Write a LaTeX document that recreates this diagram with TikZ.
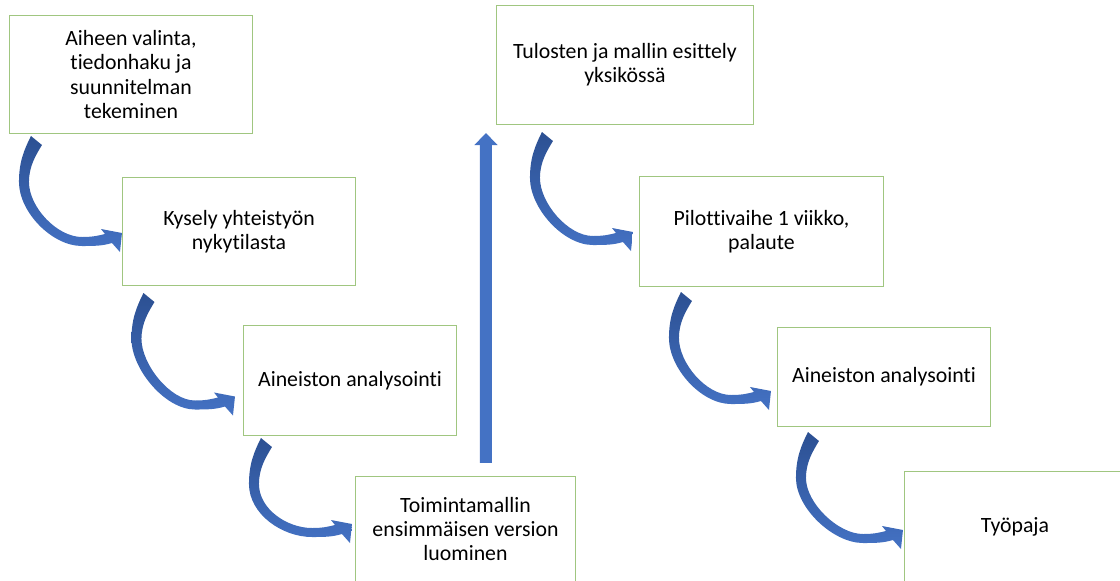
\documentclass[tikz,border=0pt]{standalone}
\usepackage{fontspec}
\setmainfont[Ligatures=NoCommon]{Carlito}
\usepackage{tikz}
\usetikzlibrary{arrows.meta,calc}
\definecolor{cbox}{RGB}{160,198,128}
\definecolor{carrow}{RGB}{68,114,196}
\definecolor{cdark}{RGB}{44,80,146}

% bent SmartArt-like arrow: #1 anchor + #2 shift = tail, #3 anchor + #4 shift = tip
\newcommand{\bendarrow}[4]{%
  \coordinate (S) at ($(#1)+(#2)$);
  \coordinate (T) at ($(#3)+(#4)$);
  \path[curvarrow] ($(S)+(-4,-5)$) .. controls +(-7,14) and +(0,-20) .. ($(S)+(-16,41)$)
    .. controls +(0,30) and +(-30,0) .. ($(T)+(-40,13)$)
    .. controls +(12,0) and +(-10,3) .. ($(T)+(-10,10)$)
    -- ($(T)+(-2,19)$) -- (T) -- ($(T)+(-21,-4)$) -- ($(T)+(-17,1)$)
    .. controls +(-8,2) and +(10,0) .. ($(T)+(-40,4)$)
    .. controls +(-25,0) and +(0,25) .. ($(S)+(-6,41)$)
    .. controls +(0,-16) and +(-6,10) .. ($(S)+(7,4)$) -- cycle;}

\begin{document}
\begin{tikzpicture}[
  x=0.025cm, y=-0.025cm,
  font=\fontsize{15.5}{17.3}\selectfont,
  box/.style={draw=cbox, line width=0.7pt, fill=white, align=center, inner sep=0pt, outer sep=0pt},
  curvarrow/.style={top color=cdark, bottom color=carrow, draw=none},
  uparr/.style={draw=carrow, line width=3mm, -{Triangle[width=5.6mm,length=3mm]}},
]
\useasboundingbox (0,0) rectangle (1120,580);

% ---- left staircase ----
\node[box, minimum width=6.05cm, minimum height=2.925cm] (valinta) at (131,74.5) {Aiheen valinta,\\tiedonhaku ja\\suunnitelman\\tekeminen};
\node[box, minimum width=5.8cm, minimum height=2.675cm] (kysely) at (239,231.5) {Kysely yhteistyön\\nykytilasta};
\node[box, minimum width=5.3cm, minimum height=2.725cm] (analyysi1) at (350,380.5) {Aineiston analysointi};
\node[box, minimum width=5.475cm, minimum height=2.65cm] (malli) at (465.5,529) {Toimintamallin\\ensimmäisen version\\luominen};

% ---- right staircase ----
\node[box, minimum width=6.4cm, minimum height=2.95cm] (esittely) at (625,65) {Tulosten ja mallin esittely\\yksikössä};
\node[box, minimum width=6.075cm, minimum height=2.725cm] (pilotti) at (761.5,231.5) {Pilottivaihe 1 viikko,\\palaute};
\node[box, minimum width=5.3cm, minimum height=2.475cm] (analyysi2) at (884,376.5) {Aineiston analysointi};
\node[box, minimum width=5.5cm, minimum height=2.8cm] (tyopaja) at (1015,527) {Työpaja};

% ---- bent arrows ----
\bendarrow{valinta.south west}{25,8}{kysely.west}{-1,1.5}
\bendarrow{kysely.south west}{24.5,13}{analyysi1.west}{-9,16}
\bendarrow{analyysi1.south west}{21,8}{malli.west}{-4,-5}
\bendarrow{esittely.south west}{49,13}{pilotti.west}{-7,0.5}
\bendarrow{pilotti.south west}{45,11}{analyysi2.west}{-7,14.5}
\bendarrow{analyysi2.south west}{34,11}{tyopaja.west}{-2,3}

% ---- up arrow between the two halves ----
\draw[uparr] ([shift={(130,-13)}]malli.north west) -- ([shift={(-11,9)}]esittely.south west);
\end{tikzpicture}
\end{document}
